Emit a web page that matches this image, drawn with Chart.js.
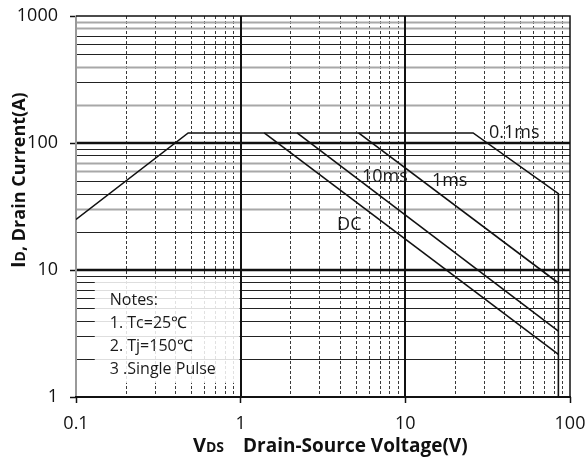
<!DOCTYPE html>
<html><head><meta charset="utf-8">
<script src="https://cdn.jsdelivr.net/npm/chart.js@4/dist/chart.umd.min.js"></script>
<style>html,body{margin:0;padding:0;background:#fff}#wrap{width:587px;height:459px;position:relative}</style>
</head><body><div id="wrap"><canvas id="c" width="587" height="459"></canvas></div>
<script>
// ---- data ----
const xTickLabels = ['0.1', '1', '10', '100'];
const yTickLabels = ['1', '10', '100', '1000'];
const seriesNames = ['0.1ms', '1ms', '10ms', 'DC'];
const vds01ms = [0.1, 0.48, 25.8, 85, 85];
const id01ms  = [25, 120, 120, 40, 1];
const vds1ms  = [5.2, 85];
const id1ms   = [120, 7.9];
const vds10ms = [2.2, 85];
const id10ms  = [120, 3.3];
const vdsDC   = [1.39, 85];
const idDC    = [120, 2.17];
const notes = ['Notes:', '1. Tc=25\u2103', '2. Tj=150\u2103', '3 .Single Pulse'];

const FONT = "'Open Sans', 'Liberation Sans', sans-serif";
const toPts = (xs, ys) => xs.map((v, i) => ({x: v, y: ys[i]}));
const isPow10 = v => Math.abs(Math.log10(v) - Math.round(Math.log10(v))) < 1e-9;

// label anchors (data coords) for curve names
const labelAnchors = [[32.2, 109], [14.5, 45.9], [5.45, 49.3], [3.85, 20.6]];

const gridPlugin = {
  id: 'customGrid',
  beforeDatasetsDraw(chart) {
    const {ctx, chartArea: a, scales: {x, y}} = chart;
    ctx.save();
    const grayH = [900, 800, 400, 200, 70, 60, 30];
    // vertical minor dashed
    ctx.setLineDash([3, 2]);
    for (let k = -1; k <= 1; k++) for (let m = 2; m <= 9; m++) {
      const v = m * Math.pow(10, k);
      const px = Math.round(x.getPixelForValue(v)) + 0.5;
      ctx.strokeStyle = '#3a3a3a'; ctx.lineWidth = 1;
      ctx.beginPath(); ctx.moveTo(px, a.top); ctx.lineTo(px, a.bottom); ctx.stroke();
    }
    ctx.setLineDash([]);
    // horizontal minor
    for (let k = 0; k <= 2; k++) for (let m = 2; m <= 9; m++) {
      const v = m * Math.pow(10, k);
      const gray = grayH.some(g => Math.abs(g - v) < 1e-6);
      const py = Math.round(y.getPixelForValue(v)) + 0.5;
      ctx.strokeStyle = gray ? '#a8a8a8' : '#222';
      ctx.lineWidth = gray ? 2 : 1.2;
      ctx.beginPath(); ctx.moveTo(a.left, py); ctx.lineTo(a.right, py); ctx.stroke();
    }
    // majors
    ctx.strokeStyle = '#111'; ctx.lineWidth = 2.5;
    [10, 100].forEach(v => {
      const py = Math.round(y.getPixelForValue(v));
      ctx.beginPath(); ctx.moveTo(a.left, py); ctx.lineTo(a.right, py); ctx.stroke();
    });
    ctx.lineWidth = 2;
    [1, 10].forEach(v => {
      const px = Math.round(x.getPixelForValue(v));
      ctx.beginPath(); ctx.moveTo(px, a.top); ctx.lineTo(px, a.bottom); ctx.stroke();
    });
    // notes box
    const bx0 = x.getPixelForValue(0.13), bx1 = x.getPixelForValue(0.985);
    const by0 = y.getPixelForValue(8.5), by1 = y.getPixelForValue(1.29);
    ctx.fillStyle = 'rgba(255,255,255,0.85)';
    ctx.fillRect(bx0, by0, bx1 - bx0, by1 - by0);
    ctx.fillStyle = '#1a1a1a';
    ctx.font = '16px ' + FONT;
    ctx.textAlign = 'left'; ctx.textBaseline = 'alphabetic';
    notes.forEach((t, i) => ctx.fillText(t, bx0 + 15, by0 + 26 + i * 23));
    // borders
    ctx.strokeStyle = '#999'; ctx.lineWidth = 2;
    ctx.beginPath(); ctx.moveTo(a.left, a.top); ctx.lineTo(a.left, a.bottom); ctx.stroke();
    ctx.strokeStyle = '#111'; ctx.lineWidth = 1.5;
    ctx.beginPath(); ctx.moveTo(a.left, a.top); ctx.lineTo(a.right, a.top); ctx.lineTo(a.right, a.bottom); ctx.stroke();
    ctx.lineWidth = 2;
    ctx.beginPath(); ctx.moveTo(a.left - 1, a.bottom); ctx.lineTo(a.right + 1, a.bottom); ctx.stroke();
    ctx.restore();
  },
  afterDatasetsDraw(chart) {
    const {ctx, scales: {x, y}} = chart;
    ctx.save();
    ctx.fillStyle = '#1a1a1a';
    ctx.font = '18px ' + FONT;
    ctx.textAlign = 'left'; ctx.textBaseline = 'alphabetic';
    seriesNames.forEach((n, i) => {
      const [vx, vy] = labelAnchors[i];
      ctx.fillText(n, x.getPixelForValue(vx), y.getPixelForValue(vy));
    });
    // x-axis title
    ctx.fillStyle = '#111';
    let cx = 193; const base = 452;
    ctx.font = 'bold 20px ' + FONT; ctx.fillText('V', cx, base); cx += ctx.measureText('V').width;
    ctx.font = 'bold 14px ' + FONT; ctx.fillText('DS', cx, base);
    ctx.font = 'bold 19px ' + FONT; ctx.fillText('Drain-Source Voltage(V)', 243, base);
    // y-axis title
    ctx.translate(25, 268); ctx.rotate(-Math.PI / 2);
    let cy = 0;
    ctx.font = 'bold 20px ' + FONT; ctx.fillText('I', cy, 0); cy += ctx.measureText('I').width;
    ctx.font = 'bold 14px ' + FONT; ctx.fillText('D', cy, 0); cy += ctx.measureText('D').width;
    ctx.font = 'bold 18px ' + FONT; ctx.fillText(', Drain Current(A)', cy, 0);
    ctx.restore();
  }
};

const lineDs = (label, pts) => ({
  label, data: pts, showLine: true, borderColor: '#111', borderWidth: 1.6,
  pointRadius: 0, fill: false, tension: 0
});

new Chart(document.getElementById('c'), {
  type: 'scatter',
  data: {
    datasets: [
      lineDs(seriesNames[0], toPts(vds01ms, id01ms)),
      lineDs(seriesNames[1], toPts(vds1ms, id1ms)),
      lineDs(seriesNames[2], toPts(vds10ms, id10ms)),
      lineDs(seriesNames[3], toPts(vdsDC, idDC))
    ]
  },
  options: {
    responsive: false, animation: false, devicePixelRatio: 1,
    layout: {padding: {left: 0, right: 17, top: 16, bottom: 0}},
    plugins: {legend: {display: false}, tooltip: {enabled: false}},
    scales: {
      x: {
        type: 'logarithmic', min: 0.1, max: 100,
        afterFit: s => { s.height = 62; s.paddingLeft = 0; s.paddingRight = 0; },
        border: {display: false},
        grid: {drawOnChartArea: false, drawTicks: true, tickLength: 6, tickWidth: 1.5,
               tickColor: c => isPow10(c.tick.value) ? '#111' : 'rgba(0,0,0,0)'},
        ticks: {autoSkip: false, maxRotation: 0, padding: 10, color: '#111',
                font: {family: FONT, size: 18},
                callback: v => { const s = String(+v.toPrecision(3)); return xTickLabels.includes(s) ? s : ''; }}
      },
      y: {
        type: 'logarithmic', min: 1, max: 1000,
        afterFit: s => { s.width = 76; s.paddingTop = 0; s.paddingBottom = 0; },
        border: {display: false},
        grid: {drawOnChartArea: false, drawTicks: true, tickLength: 6, tickWidth: 1.5,
               tickColor: c => isPow10(c.tick.value) ? '#111' : 'rgba(0,0,0,0)'},
        ticks: {autoSkip: false, padding: 12, color: '#111',
                font: {family: FONT, size: 18},
                callback: v => { const s = String(+v.toPrecision(3)); return yTickLabels.includes(s) ? s : ''; }}
      }
    }
  },
  plugins: [gridPlugin]
});
</script></body></html>
